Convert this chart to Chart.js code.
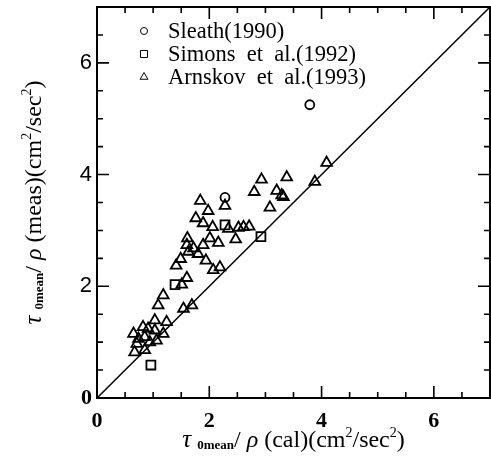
<!DOCTYPE html>
<html>
<head>
<meta charset="utf-8">
<script src="https://cdn.jsdelivr.net/npm/chart.js@4.4.1/dist/chart.umd.min.js"></script>
<style>
  body { margin: 0; background: #fff; }
  #wrap { width: 491px; height: 458px; }
</style>
</head>
<body>
<div id="wrap"><canvas id="chart" width="491" height="458"></canvas></div>
<script>
// values
var sleathX = [2.28, 3.79];
var sleathY = [3.59, 5.25];

var simonsX = [0.96, 1.39, 2.28, 2.92];
var simonsY = [0.59, 2.03, 3.10, 2.89];

var arnskovX = [0.67, 0.85, 0.71, 0.94, 1.06, 0.74, 0.85, 0.65, 1.18, 0.82,
                0.91, 1.03, 1.03, 1.24, 1.09, 1.54, 1.69, 1.18, 1.51, 1.60,
                1.41, 1.49, 2.07, 2.19, 1.80, 1.94, 1.63, 1.72, 1.60, 1.89,
                2.16, 1.61, 2.01, 2.47, 2.06, 1.89, 1.76, 1.98, 1.84, 2.28,
                2.34, 2.52, 2.61, 2.71, 2.80, 2.93, 3.08, 3.20, 3.29, 3.32,
                3.38, 3.88, 4.09];
var arnskovY = [0.82, 0.86, 0.97, 1.00, 1.03, 1.06, 1.09, 1.15, 1.15, 1.27,
                1.24, 1.21, 1.39, 1.36, 1.66, 1.60, 1.66, 1.84, 2.03, 2.15,
                2.37, 2.49, 2.29, 2.34, 2.58, 2.46, 2.62, 2.68, 2.74, 2.74,
                2.78, 2.86, 2.86, 2.84, 3.06, 3.13, 3.22, 3.35, 3.53, 3.44,
                3.03, 3.05, 3.06, 3.07, 3.69, 3.91, 3.41, 3.71, 3.63, 3.60,
                3.95, 3.87, 4.21];

var lineX = [0, 7];
var lineY = [0, 7];

var axisMin = 0;
var axisMax = 7;
var tickStep = 2;
var minorStep = 0.5;

var legendLabels = ['Sleath(1990)', 'Simons  et  al.(1992)', 'Arnskov  et  al.(1993)'];
var legendStyles = ['circle', 'rect', 'triangle'];

function toPoints(xs, ys) {
  return xs.map(function (x, i) { return { x: x, y: ys[i] }; });
}

var SERIF = '"Liberation Serif", "Times New Roman", serif';
var SANS = '"Liberation Sans", Arial, sans-serif';

// frame plus inward ticks on all four sides
var framePlugin = {
  id: 'frame',
  afterDatasetsDraw: function (chart) {
    var ctx = chart.ctx, a = chart.chartArea;
    var xs = chart.scales.x, ys = chart.scales.y;
    ctx.save();
    ctx.strokeStyle = '#000';
    ctx.lineWidth = 2;
    ctx.strokeRect(a.left, a.top, a.right - a.left, a.bottom - a.top);
    ctx.lineWidth = 1.6;
    ctx.beginPath();
    for (var v = axisMin + minorStep; v < axisMax; v += minorStep) {
      var len = (v % tickStep === 0) ? 12 : 6;
      var px = xs.getPixelForValue(v);
      ctx.moveTo(px, a.bottom); ctx.lineTo(px, a.bottom - len);
      ctx.moveTo(px, a.top); ctx.lineTo(px, a.top + len);
      var py = ys.getPixelForValue(v);
      ctx.moveTo(a.left, py); ctx.lineTo(a.left + len, py);
      ctx.moveTo(a.right, py); ctx.lineTo(a.right - len, py);
    }
    ctx.stroke();
    ctx.restore();
  }
};

// legend inside the plot, top left
var legendPlugin = {
  id: 'innerLegend',
  afterDraw: function (chart) {
    var ctx = chart.ctx, a = chart.chartArea;
    var sizes = { circle: 3.5, rect: 5, triangle: 4.5 };
    ctx.save();
    ctx.textBaseline = 'middle';
    ctx.textAlign = 'left';
    ctx.strokeStyle = '#000';
    legendLabels.forEach(function (lab, i) {
      var y = a.top + 24 + i * 23;
      ctx.fillStyle = 'rgba(0,0,0,0)';
      Chart.helpers.drawPoint(ctx, {
        pointStyle: legendStyles[i], radius: sizes[legendStyles[i]],
        borderWidth: 1.8, rotation: 0
      }, a.left + 47, y);
      ctx.fillStyle = '#000';
      ctx.font = '22.5px ' + SERIF;
      ctx.fillText(lab, a.left + 71, y + 1);
    });
    ctx.restore();
  }
};

function titleParts(mid) {
  return [
    { t: '\u03c4', f: 'italic 25px ' + SERIF, dy: 0 },
    { t: ' ', f: '24px ' + SERIF, dy: 0 },
    { t: '0mean', f: 'bold 13px ' + SERIF, dy: 2 },
    { t: '/ ', f: '24px ' + SERIF, dy: 0 },
    { t: '\u03c1', f: 'italic 24px ' + SERIF, dy: 0 },
    { t: ' (' + mid + ')(cm', f: '24px ' + SERIF, dy: 0 },
    { t: '2', f: '14px ' + SERIF, dy: -10 },
    { t: '/sec', f: '24px ' + SERIF, dy: 0 },
    { t: '2', f: '14px ' + SERIF, dy: -10 },
    { t: ')', f: '24px ' + SERIF, dy: 0 }
  ];
}

function drawRich(ctx, parts) {
  var w = 0;
  parts.forEach(function (p) { ctx.font = p.f; p.w = ctx.measureText(p.t).width; w += p.w; });
  var x = -w / 2;
  parts.forEach(function (p) {
    ctx.font = p.f;
    ctx.fillText(p.t, x, p.dy);
    x += p.w;
  });
}

var titlePlugin = {
  id: 'axisTitles',
  afterDraw: function (chart) {
    var ctx = chart.ctx, a = chart.chartArea;
    ctx.save();
    ctx.fillStyle = '#000';
    ctx.textBaseline = 'alphabetic';
    ctx.textAlign = 'left';
    ctx.save();
    ctx.translate((a.left + a.right) / 2, 447);
    drawRich(ctx, titleParts('cal'));
    ctx.restore();
    ctx.save();
    ctx.translate(41, (a.top + a.bottom) / 2);
    ctx.rotate(-Math.PI / 2);
    drawRich(ctx, titleParts('meas'));
    ctx.restore();
    ctx.restore();
  }
};

var marker = { borderColor: '#000', backgroundColor: 'rgba(0,0,0,0)', borderWidth: 1.8 };

function noEdgePadding(s) {
  s.paddingTop = 0; s.paddingBottom = 0;
  s.paddingLeft = 0; s.paddingRight = 0;
}

new Chart(document.getElementById('chart'), {
  type: 'scatter',
  data: {
    datasets: [
      Object.assign({ label: 'Sleath(1990)', data: toPoints(sleathX, sleathY), pointStyle: 'circle', pointRadius: 4.5, pointHoverRadius: 4.5 }, marker),
      Object.assign({ label: 'Simons et al.(1992)', data: toPoints(simonsX, simonsY), pointStyle: 'rect', pointRadius: 6.3, pointHoverRadius: 6.3 }, marker),
      Object.assign({ label: 'Arnskov et al.(1993)', data: toPoints(arnskovX, arnskovY), pointStyle: 'triangle', pointRadius: 6.2, pointHoverRadius: 6.2 }, marker),
      { label: '1:1', data: toPoints(lineX, lineY), showLine: true, pointRadius: 0, borderColor: '#000', borderWidth: 1.5, fill: false }
    ]
  },
  options: {
    responsive: false,
    animation: false,
    layout: { autoPadding: false, padding: { top: 7, right: 1, left: 0, bottom: 0 } },
    plugins: { legend: { display: false }, tooltip: { enabled: false } },
    scales: {
      x: {
        type: 'linear', min: axisMin, max: axisMax,
        grid: { display: false, drawTicks: false },
        border: { display: false },
        ticks: {
          stepSize: tickStep, includeBounds: false, padding: 10, color: '#000',
          font: { family: SERIF, size: 22, weight: 'bold' }
        },
        afterFit: function (s) { s.height = 60; noEdgePadding(s); }
      },
      y: {
        type: 'linear', min: axisMin, max: axisMax,
        grid: { display: false, drawTicks: false },
        border: { display: false },
        ticks: {
          stepSize: tickStep, includeBounds: false, padding: 5, color: '#000',
          font: function (c) {
            if (c.tick && c.tick.value === 0) return { family: SERIF, size: 22, weight: 'bold' };
            return { family: SANS, size: 22 };
          }
        },
        afterFit: function (s) { s.width = 97; noEdgePadding(s); }
      }
    }
  },
  plugins: [framePlugin, legendPlugin, titlePlugin]
});
</script>
</body>
</html>
